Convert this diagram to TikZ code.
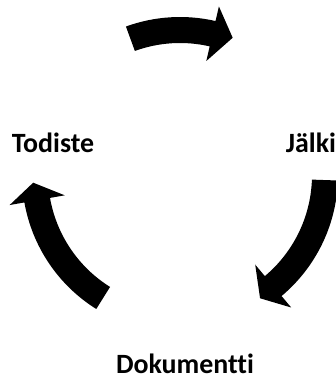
\documentclass[tikz,border=0pt]{standalone}
\usepackage{fontspec}
\setmainfont{Carlito}[Ligatures=NoCommon]
\usetikzlibrary{calc}

% curved block arrow round (c): #1 tail angle, #2 head base angle, #3 tip angle
\newcommand{\cyclearrow}[3]{%
  \fill ($(c)+(#1:158)$) arc[start angle=#1, end angle=#2, radius=158]
    -- ($(c)+(#2:173)$) -- ($(c)+(#3:147)$) -- ($(c)+(#2:117)$)
    -- ($(c)+(#2:132)$) arc[start angle=#2, end angle=#1, radius=132] -- cycle;}

\begin{document}
\begin{tikzpicture}[
    x=1bp, y=1bp,
    label/.style={font=\fontsize{28}{33}\selectfont\bfseries, inner sep=0pt, anchor=base}
]
    \useasboundingbox (0,0) rectangle (336,380);
    \clip (0,0) rectangle (336,380);
    \coordinate (c) at (180,205);

    % --- Labels ---
    \node[label] (todiste) at (53,228) {Todiste};
    \node[label] (jalki) at (311,228) {Jälki};
    \node[label] (dokumentti) at (185,7) {Dokumentti};

    % --- Cycle arrows ---
    \cyclearrow{110}{77}{69}
    \cyclearrow{-2}{-50}{-57}
    \cyclearrow{238}{190}{183}
\end{tikzpicture}
\end{document}
